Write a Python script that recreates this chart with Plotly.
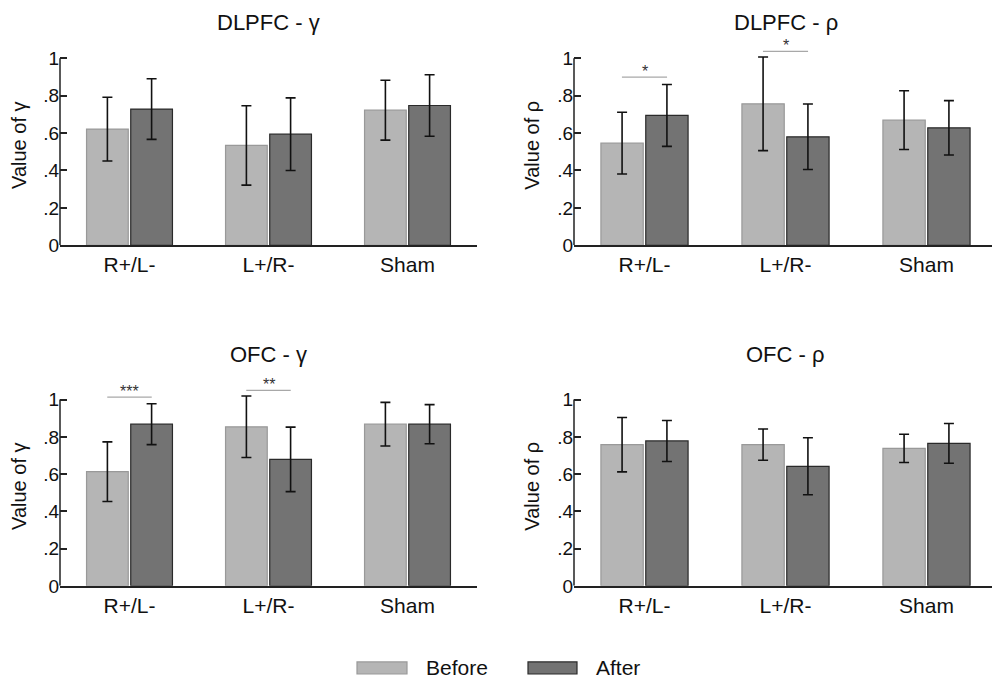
import plotly.graph_objects as go
from plotly.subplots import make_subplots

groups = ["R+/L-", "L+/R-", "Sham"]
panel_titles = ["DLPFC - γ", "DLPFC - ρ", "OFC - γ", "OFC - ρ"]
y_titles = ["Value of γ", "Value of ρ", "Value of γ", "Value of ρ"]

# means and error (SD) per panel, before / after
dlpfc_g_before = [0.621, 0.534, 0.722]
dlpfc_g_before_err = [0.170, 0.212, 0.160]
dlpfc_g_after = [0.728, 0.594, 0.747]
dlpfc_g_after_err = [0.162, 0.194, 0.164]

dlpfc_r_before = [0.546, 0.756, 0.669]
dlpfc_r_before_err = [0.165, 0.250, 0.157]
dlpfc_r_after = [0.694, 0.580, 0.628]
dlpfc_r_after_err = [0.165, 0.175, 0.145]

ofc_g_before = [0.613, 0.854, 0.868]
ofc_g_before_err = [0.160, 0.165, 0.117]
ofc_g_after = [0.868, 0.679, 0.868]
ofc_g_after_err = [0.110, 0.173, 0.105]

ofc_r_before = [0.758, 0.758, 0.738]
ofc_r_before_err = [0.146, 0.084, 0.076]
ofc_r_after = [0.778, 0.642, 0.765]
ofc_r_after_err = [0.110, 0.153, 0.107]

# significance markers: (group index, label, line height)
dlpfc_g_sig = []
dlpfc_r_sig = [(0, "*", 0.899), (1, "*", 1.036)]
ofc_g_sig = [(0, "***", 1.013), (1, "**", 1.050)]
ofc_r_sig = []

panels = [
    (dlpfc_g_before, dlpfc_g_before_err, dlpfc_g_after, dlpfc_g_after_err, dlpfc_g_sig),
    (dlpfc_r_before, dlpfc_r_before_err, dlpfc_r_after, dlpfc_r_after_err, dlpfc_r_sig),
    (ofc_g_before, ofc_g_before_err, ofc_g_after, ofc_g_after_err, ofc_g_sig),
    (ofc_r_before, ofc_r_before_err, ofc_r_after, ofc_r_after_err, ofc_r_sig),
]

FONT = "Arial, Liberation Sans, sans-serif"
BEFORE_FILL, BEFORE_LINE = "#b5b5b5", "#999999"
AFTER_FILL, AFTER_LINE = "#737373", "#2a2a2a"


# page pixel -> paper fraction (plot sits inside the page's 8px body margin)
def px(x):
    return (x - 8) / 1000


def py(y):
    return 1 - (y - 8) / 670


fig = make_subplots(rows=2, cols=2)

x_domains = [[px(60), px(477)], [px(574), px(997)]]
y_domains = [[py(245), py(45)], [py(585), py(386)]]
title_y = [1.0, py(340)]

for k, (bef, bef_err, aft, aft_err, sig) in enumerate(panels):
    r, c = k // 2 + 1, k % 2 + 1
    fig.add_trace(go.Bar(
        x=list(range(len(groups))), y=bef, name="Before",
        marker=dict(color=BEFORE_FILL, line=dict(color=BEFORE_LINE, width=1.2)),
        error_y=dict(type="data", array=bef_err, color="#111111", thickness=1.6, width=5),
        showlegend=False), row=r, col=c)
    fig.add_trace(go.Bar(
        x=list(range(len(groups))), y=aft, name="After",
        marker=dict(color=AFTER_FILL, line=dict(color=AFTER_LINE, width=1.2)),
        error_y=dict(type="data", array=aft_err, color="#111111", thickness=1.6, width=5),
        showlegend=False), row=r, col=c)

    xa = "x" if k == 0 else f"x{k + 1}"
    ya = "y" if k == 0 else f"y{k + 1}"

    fig.update_xaxes(domain=x_domains[c - 1], range=[-0.5, 2.5],
                     tickvals=list(range(len(groups))), ticktext=groups,
                     showline=True, linecolor="#222222", linewidth=1.5,
                     ticks="", showgrid=False, zeroline=False,
                     tickfont=dict(family=FONT, size=21, color="#111"),
                     row=r, col=c)
    fig.update_yaxes(domain=y_domains[r - 1], range=[0, 1.07],
                     tickvals=[0, 0.2, 0.4, 0.6, 0.8, 1],
                     ticktext=["0", ".2", ".4", ".6", ".8", "1"],
                     ticks="inside", ticklen=7, tickwidth=1.5, tickcolor="#222222",
                     showline=False, showgrid=False, zeroline=False,
                     tickfont=dict(family=FONT, size=19, color="#111"),
                     title=dict(text=y_titles[k], standoff=12,
                                font=dict(family=FONT, size=20, color="#111")),
                     row=r, col=c)

    # y axis line only from 0 to 1
    fig.add_shape(type="line", xref=f"{xa} domain", yref=ya, x0=0, x1=0, y0=0, y1=1,
                  line=dict(color="#222222", width=1.5))

    # panel title
    fig.add_annotation(text=panel_titles[k], xref=f"{xa} domain", yref="paper",
                       x=0.5, y=title_y[r - 1], yanchor="top", showarrow=False,
                       font=dict(family=FONT, size=22, color="#111"))

    for gi, label, h in sig:
        fig.add_shape(type="line", xref=xa, yref=ya, x0=gi - 0.16, x1=gi + 0.16,
                      y0=h, y1=h, line=dict(color="#a8a8a8", width=1.2))
        fig.add_annotation(text=label, xref=xa, yref=ya, x=gi, y=h,
                           yanchor="bottom", showarrow=False, yshift=-5,
                           font=dict(family=FONT, size=16, color="#333"))

# legend drawn with shapes
fig.add_shape(type="rect", xref="paper", yref="paper", x0=px(357), x1=px(407),
              y0=py(673), y1=py(661),
              fillcolor=BEFORE_FILL, line=dict(color=BEFORE_LINE, width=1.2))
fig.add_annotation(text="Before", xref="paper", yref="paper", x=px(424), y=py(667),
                   xanchor="left", yanchor="middle", showarrow=False,
                   font=dict(family=FONT, size=21, color="#111"))
fig.add_shape(type="rect", xref="paper", yref="paper", x0=px(528), x1=px(577),
              y0=py(673), y1=py(661),
              fillcolor=AFTER_FILL, line=dict(color=AFTER_LINE, width=1.2))
fig.add_annotation(text="After", xref="paper", yref="paper", x=px(594), y=py(667),
                   xanchor="left", yanchor="middle", showarrow=False,
                   font=dict(family=FONT, size=21, color="#111"))

fig.update_layout(
    width=1000, height=682,
    margin=dict(l=0, r=0, t=0, b=0),
    paper_bgcolor="white", plot_bgcolor="white",
    barmode="group", bargap=0.364, bargroupgap=0.056,
    showlegend=False,
    font=dict(family=FONT),
)

fig.write_html("out.html")
